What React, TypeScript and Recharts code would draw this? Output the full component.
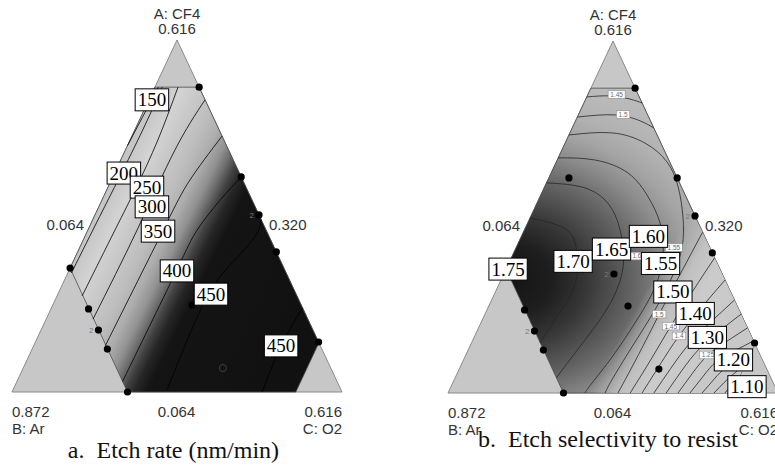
import React from "react";
import { Scatter, ScatterChart, XAxis, YAxis } from "recharts";

// compositions are [A: CF4, C: O2] in pseudo-component fractions, B: Ar = 1 - A - C
type Tern = [number, number];

const simplex: Tern[] = [[0, 0], [0, 1], [1, 0]];
const designSpace: Tern[] = [[0.866, 0], [0.866, 0.134], [0.14, 0.86], [0, 0.86], [0, 0.35], [0.352, 0]];

// design runs: [A, C, replicates]
const runs: [number, number, number][] = [
  [0.866, 0.134, 1], [0.611, 0.389, 1], [0.503, 0.497, 2], [0.398, 0.602, 1], [0.142, 0.858, 1],
  [0.352, 0, 1], [0.236, 0.114, 1], [0.176, 0.174, 2], [0.122, 0.228, 1], [0, 0.35, 1],
  [0.247, 0.422, 1], [0.068, 0.605, 1], [0.611, 0.061, 1], [0.338, 0.334, 2],
];

// a. etch rate contours: 150, 200, 250, 300, 350, 400, 450, 450
const rateContours: Tern[][] = [
  [[0.70, 0], [0.78, 0.005], [0.866, 0.01]],
  [[0.338, 0.011], [0.46, 0.015], [0.622, 0.021], [0.759, 0.024], [0.866, 0.022]],
  [[0.273, 0.076], [0.46, 0.082], [0.582, 0.086], [0.716, 0.084], [0.866, 0.07]],
  [[0.207, 0.142], [0.46, 0.149], [0.6875, 0.15], [0.83, 0.17]],
  [[0.131, 0.217], [0.46, 0.228], [0.602, 0.238], [0.727, 0.273]],
  [[0.03, 0.32], [0.344, 0.326], [0.46, 0.331], [0.545, 0.358], [0.611, 0.389]],
  [[0.006, 0.467], [0.247, 0.455], [0.36, 0.48], [0.44, 0.515], [0.49, 0.51]],
  [[0, 0.758], [0.131, 0.75], [0.239, 0.761]],
];
const rateLabels: [number, number, string][] = [
  [0.83, 0.009, "150"], [0.622, 0.028, "200"], [0.582, 0.118, "250"], [0.526, 0.161, "300"],
  [0.457, 0.214, "350"], [0.344, 0.328, "400"], [0.278, 0.464, "450"], [0.131, 0.75, "450"],
];

// b. etch selectivity contours
const selContours: Tern[][] = [
  [[0.426, 0], [0.415, 0.087], [0.369, 0.146], [0.301, 0.183], [0.227, 0.181], [0.199, 0.151]], // 1.75
  [[0.497, 0], [0.463, 0.129], [0.401, 0.19], [0.344, 0.222], [0.273, 0.233], [0.216, 0.222], [0.142, 0.208]], // 1.70
  [[0.597, 0], [0.585, 0.114], [0.548, 0.202], [0.491, 0.267], [0.415, 0.323], [0.341, 0.357], [0.264, 0.365], [0.1875, 0.351], [0.114, 0.328], [0.043, 0.307]], // 1.65
  [[0.668, 0], [0.662, 0.114], [0.625, 0.233], [0.557, 0.328], [0.483, 0.401], [0.398, 0.453], [0.301, 0.477], [0.199, 0.467], [0.102, 0.446], [0.028, 0.422], [0, 0.415]], // 1.60
  [[0.733, 0], [0.739, 0.127], [0.71, 0.242], [0.656, 0.336], [0.585, 0.405], [0.5, 0.462], [0.415, 0.502], [0.33, 0.514], [0.236, 0.509], [0.131, 0.492], [0.037, 0.478], [0, 0.476]], // 1.55
  [[0.784, 0], [0.79, 0.111], [0.773, 0.196], [0.753, 0.247]], // 1.50 top
  [[0.841, 0], [0.844, 0.069], [0.835, 0.134], [0.824, 0.176]], // 1.45 top
  [[0, 0.515], [0.11, 0.523], [0.224, 0.528], [0.34, 0.535], [0.457, 0.543]], // 1.50
  [[0, 0.552], [0.1, 0.568], [0.19, 0.58], [0.29, 0.597], [0.384, 0.616]], // 1.45
  [[0, 0.588], [0.08, 0.602], [0.162, 0.619], [0.245, 0.6475], [0.321, 0.679]], // 1.40
  [[0, 0.624], [0.07, 0.64], [0.142, 0.662], [0.205, 0.6975], [0.264, 0.736]], // 1.35
  [[0, 0.661], [0.063, 0.6765], [0.125, 0.6985], [0.178, 0.736], [0.224, 0.776]], // 1.30
  [[0, 0.697], [0.055, 0.7125], [0.108, 0.734], [0.15, 0.775], [0.185, 0.815]], // 1.25
  [[0, 0.733], [0.046, 0.749], [0.091, 0.7695], [0.122, 0.811], [0.148, 0.852]], // 1.20
  [[0, 0.77], [0.04, 0.787], [0.074, 0.808], [0.116, 0.86]], // 1.15
  [[0, 0.806], [0.03, 0.822], [0.054, 0.838], [0.08, 0.86]], // 1.10
  [[0, 0.839], [0.02, 0.848], [0.04, 0.86]], // 1.05
];
const selLabels: [number, number, string][] = [
  [0.352, 0.006, "1.75"], [0.374, 0.192, "1.70"], [0.409, 0.291, "1.65"], [0.445, 0.385, "1.60"],
  [0.368, 0.46, "1.55"], [0.287, 0.538, "1.50"], [0.226, 0.636, "1.40"], [0.158, 0.707, "1.30"],
  [0.094, 0.818, "1.20"], [0.018, 0.897, "1.10"],
];
const selTags: [number, number, string][] = [
  [0.848, 0.087, "1.45"], [0.791, 0.135, "1.5"], [0.413, 0.478, "1.55"], [0.389, 0.378, "1.6"],
  [0.224, 0.528, "1.5"], [0.19, 0.58, "1.45"], [0.162, 0.619, "1.4"], [0.108, 0.734, "1.25"],
];

const axisNames = ["A: CF4", "B: Ar", "C: O2"];
const vertexTicks = ["0.616", "0.872", "0.616"];
const edgeTicks = ["0.064", "0.320", "0.064"];
const captions = ["a.  Etch rate (nm/min)", "b.  Etch selectivity to resist"];

const serif = "'Liberation Serif', 'Times New Roman', serif";
const sans = "'Liberation Sans', Arial, sans-serif";

const toXY = ([a, c]: Tern) => ({ x: c + a / 2, y: a });
const ptsAttr = (p: any) => (p.points || []).map((q: any) => `${q.x},${q.y}`).join(" ");
const NoMark = () => <g />;

function polygonLine(fill: string, stroke: string, strokeWidth: number, defs?: React.ReactNode) {
  return (p: any) => (
    <g>
      {defs}
      <polygon points={ptsAttr(p)} fill={fill} stroke={stroke} strokeWidth={strokeWidth} />
    </g>
  );
}

function BoxLabel(p: any) {
  const { cx, cy, payload } = p;
  const t: string = payload.text;
  const w = t.replace(".", "").length * 9.5 + (t.includes(".") ? 4.8 : 0) + 5;
  return (
    <g>
      <rect x={cx - w / 2} y={cy - 11} width={w} height={22} fill="#fff" stroke="#000" strokeWidth={1} />
      <text x={cx} y={cy + 6.5} textAnchor="middle" fontFamily={serif} fontSize={19} fill="#000">
        {t}
      </text>
    </g>
  );
}

function TagLabel(p: any) {
  const { cx, cy, payload } = p;
  const t: string = payload.text;
  const w = t.length * 3.5 + 3;
  return (
    <g>
      <rect x={cx - w / 2} y={cy - 3.8} width={w} height={7.6} fill="#fff" stroke="#8c8c8c" strokeWidth={0.6} />
      <text x={cx} y={cy + 2.4} textAnchor="middle" fontFamily={sans} fontSize={6.5} fill="#6a6a6a">
        {t}
      </text>
    </g>
  );
}

function RunDot(p: any) {
  const { cx, cy, payload } = p;
  return (
    <g>
      <circle
        cx={cx}
        cy={cy}
        r={3.6}
        fill={payload.dim ? "#141414" : "#000"}
        stroke={payload.dim ? "#4a4a4a" : "none"}
        strokeWidth={0.8}
      />
      {payload.reps > 1 && (
        <text x={cx - 5} y={cy + 3} textAnchor="end" fontFamily={sans} fontSize={8} fill="#7a7a7a">
          {payload.reps}
        </text>
      )}
    </g>
  );
}

const rateShade = (
  <defs>
    <linearGradient id="rateShade" x1="0" y1="0" x2="1" y2="0.6">
      <stop offset="0" stopColor="#c4c4c4" />
      <stop offset="0.27" stopColor="#c6c6c6" />
      <stop offset="0.33" stopColor="#d3d3d3" />
      <stop offset="0.38" stopColor="#c9c9c9" />
      <stop offset="0.45" stopColor="#bdbdbd" />
      <stop offset="0.5" stopColor="#acacac" />
      <stop offset="0.54" stopColor="#929292" />
      <stop offset="0.57" stopColor="#6e6e6e" />
      <stop offset="0.6" stopColor="#434343" />
      <stop offset="0.63" stopColor="#262626" />
      <stop offset="0.67" stopColor="#141414" />
      <stop offset="1" stopColor="#111111" />
    </linearGradient>
  </defs>
);

const selShade = (
  <defs>
    <radialGradient
      id="selShade"
      cx="0"
      cy="0.629"
      r="1"
      fx="0"
      fy="0.629"
      gradientTransform="translate(0 0.629) scale(1.532 1) translate(0 -0.629)"
    >
      <stop offset="0" stopColor="#141414" />
      <stop offset="0.12" stopColor="#1e1e1e" />
      <stop offset="0.21" stopColor="#363636" />
      <stop offset="0.34" stopColor="#666666" />
      <stop offset="0.43" stopColor="#8c8c8c" />
      <stop offset="0.5" stopColor="#a4a4a4" />
      <stop offset="0.57" stopColor="#b2b2b2" />
      <stop offset="0.64" stopColor="#b9b9b9" />
      <stop offset="0.78" stopColor="#c0c0c0" />
      <stop offset="1" stopColor="#c6c6c6" />
    </radialGradient>
  </defs>
);

const selFade = (
  <defs>
    <linearGradient id="selFade" x1="0" y1="0" x2="1" y2="0.691">
      <stop offset="0.69" stopColor="#b8b8b8" stopOpacity="0" />
      <stop offset="0.745" stopColor="#bcbcbc" stopOpacity="0.6" />
      <stop offset="0.78" stopColor="#c4c4c4" stopOpacity="0.9" />
      <stop offset="0.85" stopColor="#cbcbcb" stopOpacity="1" />
      <stop offset="1" stopColor="#c8c8c8" stopOpacity="1" />
    </linearGradient>
  </defs>
);

function TernaryPanel({ width, margin, shade, shadeId, overlay, contours, lineColor, labels, tags, dimRun }: any) {
  const runData = runs.map(([a, c, reps], i) => ({ ...toXY([a, c]), reps, dim: i === dimRun }));
  const labelData = labels.map(([a, c, text]: any) => ({ ...toXY([a, c]), text }));
  const tagData = (tags || []).map(([a, c, text]: any) => ({ ...toXY([a, c]), text }));
  return (
    <ScatterChart width={width} height={470} margin={margin}>
      <XAxis type="number" dataKey="x" domain={[0, 1]} hide />
      <YAxis type="number" dataKey="y" domain={[0, 1]} hide />
      <Scatter
        data={simplex.map(toXY)}
        shape={NoMark}
        line={polygonLine("#c7c7c7", "#8a8a8a", 1)}
        isAnimationActive={false}
      />
      <Scatter
        data={designSpace.map(toXY)}
        shape={NoMark}
        line={polygonLine(`url(#${shadeId})`, "#4a4a4a", 0.8, shade)}
        isAnimationActive={false}
      />
      {overlay && (
        <Scatter
          data={designSpace.map(toXY)}
          shape={NoMark}
          line={polygonLine("url(#selFade)", "none", 0, overlay)}
          isAnimationActive={false}
        />
      )}
      {contours.map((c: Tern[], i: number) => (
        <Scatter
          key={`c${i}`}
          data={c.map(toXY)}
          shape={NoMark}
          line={{ stroke: lineColor, strokeWidth: 0.8 }}
          lineJointType="natural"
          isAnimationActive={false}
        />
      ))}
      <Scatter data={runData} shape={RunDot} isAnimationActive={false} />
      {tagData.length > 0 && <Scatter data={tagData} shape={TagLabel} isAnimationActive={false} />}
      <Scatter data={labelData} shape={BoxLabel} isAnimationActive={false} />
    </ScatterChart>
  );
}

function AxisTexts({ ox, oy, caption, capX, capY }: any) {
  const t = { fontFamily: sans, fontSize: 15, fill: "#333" };
  return (
    <g>
      <text x={ox + 165} y={oy - 373} textAnchor="middle" {...t}>{axisNames[0]}</text>
      <text x={ox + 165} y={oy - 358} textAnchor="middle" {...t}>{vertexTicks[0]}</text>
      <text x={ox + 72} y={oy - 162} textAnchor="end" {...t}>{edgeTicks[0]}</text>
      <text x={ox + 257} y={oy - 162} textAnchor="start" {...t}>{edgeTicks[1]}</text>
      <text x={ox} y={oy + 25} textAnchor="start" {...t}>{vertexTicks[1]}</text>
      <text x={ox} y={oy + 42} textAnchor="start" {...t}>{axisNames[1]}</text>
      <text x={ox + 164.5} y={oy + 25} textAnchor="middle" {...t}>{edgeTicks[2]}</text>
      <text x={ox + 330} y={oy + 25} textAnchor="end" {...t}>{vertexTicks[2]}</text>
      <text x={ox + 330} y={oy + 42} textAnchor="end" {...t}>{axisNames[2]}</text>
      <text
        x={capX}
        y={capY}
        textAnchor="middle"
        fontFamily={serif}
        fontSize={24}
        fill="#111"
        xmlSpace="preserve"
        style={{ whiteSpace: "pre" }}
      >
        {caption}
      </text>
    </g>
  );
}

export default function App() {
  return (
    <div
      style={{ position: "fixed", left: 0, top: 0, width: 775, height: 470, overflow: "hidden", background: "#fff" }}
    >
      <div style={{ position: "absolute", left: 0, top: 0 }}>
        <TernaryPanel
          width={390}
          margin={{ top: 40, right: 48, bottom: 78, left: 12 }}
          shade={rateShade}
          shadeId="rateShade"
          contours={rateContours}
          lineColor="#000"
          labels={rateLabels}
          dimRun={11}
        />
      </div>
      <div style={{ position: "absolute", left: 390, top: 0 }}>
        <TernaryPanel
          width={400}
          margin={{ top: 41, right: 12, bottom: 77, left: 58 }}
          shade={selShade}
          shadeId="selShade"
          overlay={selFade}
          contours={selContours}
          lineColor="#262626"
          labels={selLabels}
          tags={selTags}
          dimRun={-1}
        />
      </div>
      <svg
        width={775}
        height={470}
        style={{ position: "absolute", left: 0, top: 0, pointerEvents: "none" }}
      >
        <AxisTexts ox={12} oy={392} caption={captions[0]} capX={173.5} capY={458} />
        <AxisTexts ox={448} oy={393} caption={captions[1]} capX={608} capY={447} />
      </svg>
    </div>
  );
}
